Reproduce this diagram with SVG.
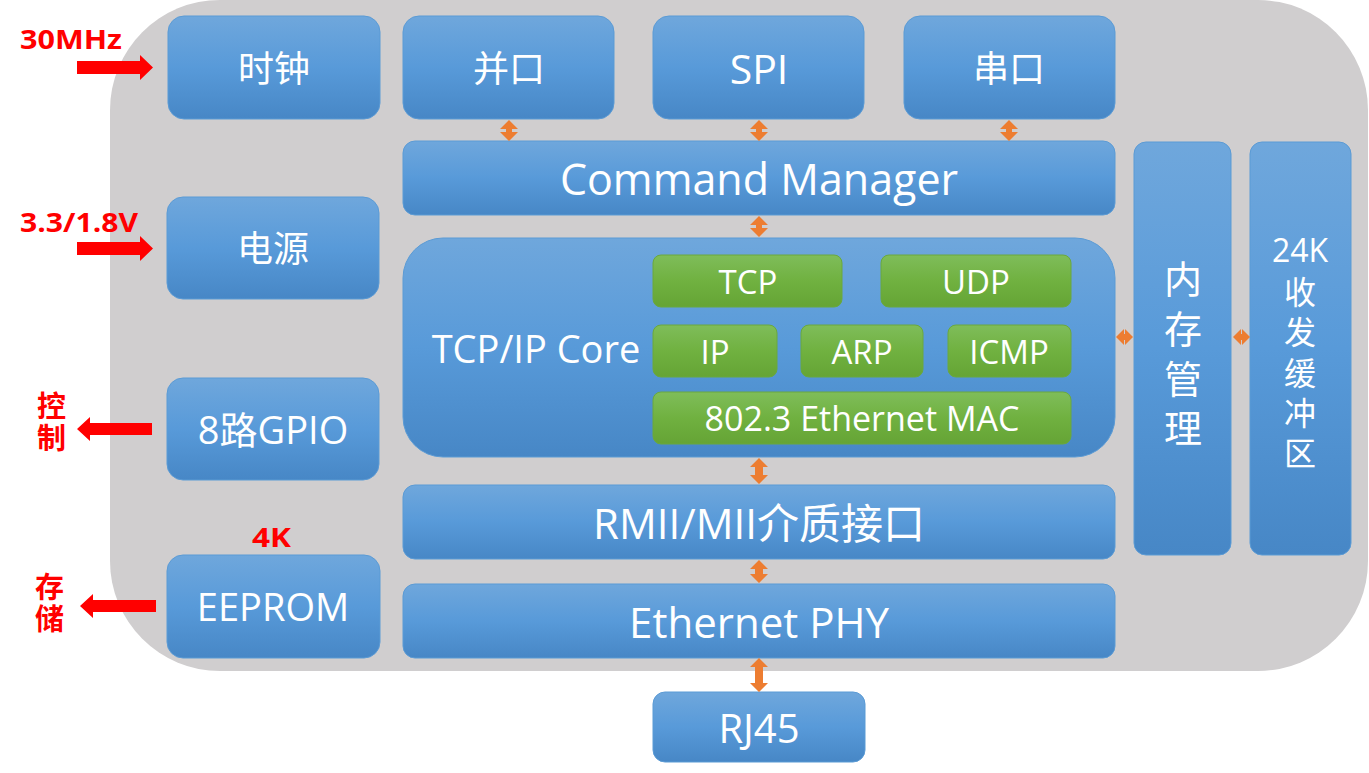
<svg xmlns="http://www.w3.org/2000/svg" width="1369" height="773" viewBox="0 0 1369 773">
<defs>
<linearGradient id="gb" x1="0" y1="0" x2="0" y2="1">
<stop offset="0" stop-color="#6fa7dc"/>
<stop offset="0.5" stop-color="#589ad9"/>
<stop offset="1" stop-color="#4787c6"/>
</linearGradient>
<linearGradient id="gg" x1="0" y1="0" x2="0" y2="1">
<stop offset="0" stop-color="#7fbd5a"/>
<stop offset="0.5" stop-color="#70b140"/>
<stop offset="1" stop-color="#65a435"/>
</linearGradient>
<style>
.b{fill:url(#gb);stroke:#5b9bd5;stroke-width:1}
.g{fill:url(#gg);stroke:#6aa83f;stroke-width:1}
.t{fill:#ffffff;font-family:"Open Sans","Noto Sans CJK SC",sans-serif;text-anchor:middle;dominant-baseline:central}
.r{fill:#ff0000;font-family:"Open Sans","Noto Sans CJK SC",sans-serif;font-weight:bold}
.v{writing-mode:vertical-rl;text-orientation:upright}
.o{fill:#ed7d31}
.ra{fill:#ff0000}
</style>
</defs>
<rect x="110" y="0" width="1258" height="671" rx="110" ry="110" fill="#d0cecf"/>
<g id="n-clock"><rect class="b" x="168" y="16" width="212" height="103" rx="16"/><text class="t" x="274" y="68" font-size="36">时钟</text></g>
<g id="n-parallel"><rect class="b" x="403" y="16" width="211" height="103" rx="16"/><text class="t" x="509" y="68" font-size="36">并口</text></g>
<g id="n-spi"><rect class="b" x="653" y="16" width="211" height="103" rx="16"/><text class="t" x="759" y="68" font-size="41">SPI</text></g>
<g id="n-serial"><rect class="b" x="904" y="16" width="211" height="103" rx="16"/><text class="t" x="1009" y="68" font-size="36">串口</text></g>
<g id="n-power"><rect class="b" x="167" y="197" width="212" height="102" rx="16"/><text class="t" x="273" y="248" font-size="36">电源</text></g>
<g id="n-gpio"><rect class="b" x="167" y="378" width="212" height="102" rx="16"/><text class="t" x="273" y="429" font-size="38">8路GPIO</text></g>
<g id="n-eeprom"><rect class="b" x="167" y="555" width="213" height="103" rx="16"/><text class="t" x="273" y="606" font-size="38">EEPROM</text></g>
<g id="n-cmd"><rect class="b" x="403" y="141" width="712" height="74" rx="12"/><text class="t" x="759" y="178" font-size="43">Command Manager</text></g>
<g id="n-core"><rect class="b" x="403" y="238" width="712" height="219" rx="40"/><text class="t" x="536" y="348" font-size="38">TCP/IP Core</text></g>
<g id="n-tcp"><rect class="g" x="653" y="255" width="189" height="52" rx="8"/><text class="t" x="748" y="281" font-size="33">TCP</text></g>
<g id="n-udp"><rect class="g" x="881" y="255" width="190" height="52" rx="8"/><text class="t" x="976" y="281" font-size="33">UDP</text></g>
<g id="n-ip"><rect class="g" x="653" y="325" width="124" height="52" rx="8"/><text class="t" x="715" y="351" font-size="33">IP</text></g>
<g id="n-arp"><rect class="g" x="801" y="325" width="122" height="52" rx="8"/><text class="t" x="862" y="351" font-size="33">ARP</text></g>
<g id="n-icmp"><rect class="g" x="948" y="325" width="123" height="52" rx="8"/><text class="t" x="1009" y="351" font-size="33">ICMP</text></g>
<g id="n-mac"><rect class="g" x="653" y="392" width="418" height="52" rx="8"/><text class="t" x="862" y="418" font-size="34">802.3 Ethernet MAC</text></g>
<g id="n-rmii"><rect class="b" x="403" y="485" width="712" height="74" rx="12"/><text class="t" x="759" y="522" font-size="42">RMII/MII介质接口</text></g>
<g id="n-phy"><rect class="b" x="403" y="584" width="712" height="74" rx="12"/><text class="t" x="759" y="621" font-size="42">Ethernet PHY</text></g>
<g id="n-rj45"><rect class="b" x="653" y="692" width="212" height="70" rx="12"/><text class="t" x="759" y="727" font-size="40">RJ45</text></g>
<g id="n-mem"><rect class="b" x="1134" y="142" width="97" height="413" rx="12"/>
<text class="t" x="1183" y="278" font-size="38">内</text><text class="t" x="1183" y="328" font-size="38">存</text><text class="t" x="1183" y="378" font-size="38">管</text><text class="t" x="1183" y="427" font-size="38">理</text></g>
<g id="n-buf"><rect class="b" x="1250" y="142" width="101" height="413" rx="12"/>
<text class="t" x="1300" y="249" font-size="32">24K</text><text class="t" x="1300" y="291" font-size="32">收</text><text class="t" x="1300" y="331" font-size="32">发</text><text class="t" x="1300" y="372" font-size="32">缓</text><text class="t" x="1300" y="412" font-size="32">冲</text><text class="t" x="1300" y="452" font-size="32">区</text></g>
<g id="connectors">
<polygon class="o" points="509,120 518,129 512,129 512,132 518,132 509,141 500,132 506,132 506,129 500,129"/>
<polygon class="o" points="759,120 768,129 762,129 762,132 768,132 759,141 750,132 756,132 756,129 750,129"/>
<polygon class="o" points="1009,120 1018,129 1012,129 1012,132 1018,132 1009,141 1000,132 1006,132 1006,129 1000,129"/>
<polygon class="o" points="759,216 768,225 762,225 762,228 768,228 759,237 750,228 756,228 756,225 750,225"/>
<polygon class="o" points="759,458 768,467 763,467 763,475 768,475 759,484 750,475 755,475 755,467 750,467"/>
<polygon class="o" points="759,560 768,569 763,569 763,574 768,574 759,583 750,574 755,574 755,569 750,569"/>
<polygon class="o" points="759,658 768,667 763,667 763,683 768,683 759,692 750,683 755,683 755,667 750,667"/>
<polygon class="o" points="1116,337 1124,329 1124,334 1125,334 1125,329 1133,337 1125,345 1125,340 1124,340 1124,345"/>
<polygon class="o" points="1233,337 1241,329 1241,334 1242,334 1242,329 1250,337 1242,345 1242,340 1241,340 1241,345"/>
<polygon class="ra" points="77,61 140,61 140,55 153,67.5 140,80 140,74 77,74"/>
<polygon class="ra" points="77,242 140,242 140,236 153,248.5 140,261 140,255 77,255"/>
<polygon class="ra" points="152,423 90,423 90,417 77,429 90,441 90,435 152,435"/>
<polygon class="ra" points="156,600 93,600 93,594 80,606 93,618 93,612 156,612"/>
</g>
<g id="labels">
<text class="r" x="20" y="49" font-size="26" textLength="102" lengthAdjust="spacingAndGlyphs">30MHz</text>
<text class="r" x="20" y="232" font-size="26" textLength="118" lengthAdjust="spacingAndGlyphs">3.3/1.8V</text>
<text class="r" x="252" y="547" font-size="27" textLength="39" lengthAdjust="spacingAndGlyphs">4K</text>
<text class="r v" x="50" y="391" font-size="29" letter-spacing="3">控制</text>
<text class="r v" x="48" y="572" font-size="29" letter-spacing="3">存储</text>
</g>
</svg>
